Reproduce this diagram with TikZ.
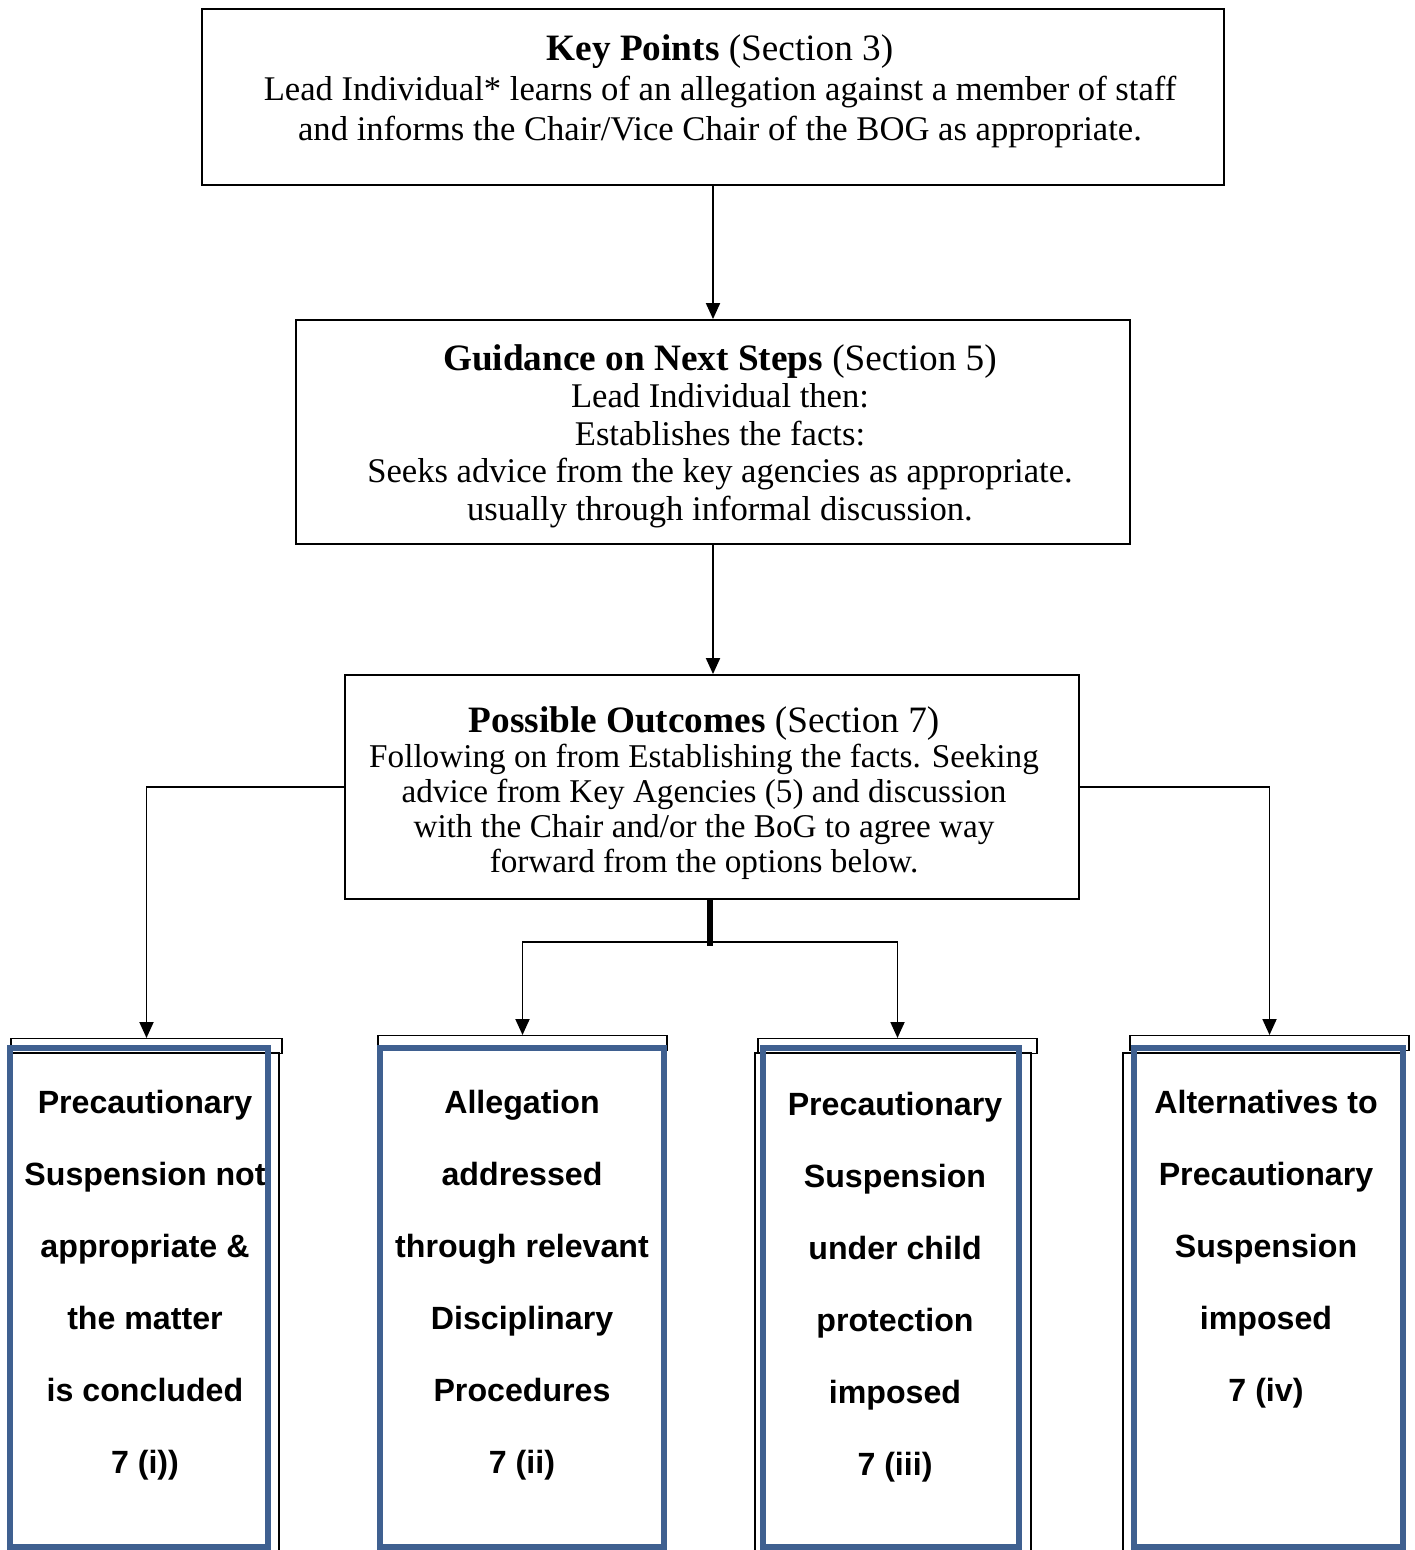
\documentclass[tikz,border=0pt]{standalone}
\usepackage{fontspec}
\setmainfont{Liberation Serif}
\setsansfont{Liberation Sans}
\usetikzlibrary{arrows.meta,positioning}
\definecolor{frameblue}{HTML}{3F6090}
\newcommand{\headline}[2]{{\fontsize{21.2}{22.8}\selectfont\textbf{#1} (#2)}}

\begin{document}
\begin{tikzpicture}[x=0.02cm,y=-0.02cm,
    box/.style={draw,line width=1.1pt,inner sep=0pt},
    tab/.style={draw,line width=0.8pt,inner sep=0pt,anchor=north,minimum height=0.3cm},
    body/.style={draw,line width=0.8pt},
    frame/.style={draw=frameblue,line width=3.4pt},
    link/.style={line width=1.1pt,-{Triangle[length=0.32cm,width=0.28cm]}},
    bigtext/.style={align=center,inner sep=0pt,font=\fontsize{19.7}{22.8}\selectfont},
    midtext/.style={align=center,inner sep=0pt,font=\fontsize{19.7}{21.3}\selectfont},
    lowtext/.style={align=center,inner sep=0pt,font=\fontsize{18.9}{19.9}\selectfont},
    option/.style={align=center,inner sep=0pt,font=\sffamily\bfseries\fontsize{18.3}{41}\selectfont}]
    \useasboundingbox (0,0) rectangle (1414,1550);

    % the three main boxes
    \node[box,minimum width=20.44cm,minimum height=3.52cm] (keypts) at (713,97) {};
    \node[bigtext] (keytext) at (720,91) {\headline{Key Points}{Section 3}\\
        Lead Individual* learns of an allegation against a member of staff\\
        and informs the Chair/Vice Chair of the BOG as appropriate.};

    \node[box,minimum width=16.68cm,minimum height=4.48cm] (guide) at (713,432) {};
    \node[midtext] (guidetext) at (720,436) {\headline{Guidance on Next Steps}{Section 5}\\
        Lead Individual then:\\
        Establishes the facts:\\
        Seeks advice from the key agencies as appropriate.\\
        usually through informal discussion.};

    \node[box,minimum width=14.68cm,minimum height=4.48cm] (outcomes) at (712,787) {};
    \node[lowtext] (outtext) at (704,793) {\headline{Possible Outcomes}{Section 7}\\
        Following on from Establishing the facts. Seeking\\
        advice from Key Agencies (5) and discussion\\
        with the Chair and/or the BoG to agree way\\
        forward from the options below.};

    % the four options
    \node[tab,minimum width=5.42cm] (out1) at (146.5,1038) {};
    \node[tab,minimum width=5.78cm] (out2) at (522.5,1035) {};
    \node[tab,minimum width=5.58cm] (out3) at (897.5,1038) {};
    \node[tab,minimum width=5.58cm] (out4) at (1269.5,1035) {};
    \draw[body] (11,1053) rectangle (279,1560);
    \draw[body] (378,1050) rectangle (662,1560);
    \draw[body] (755,1053) rectangle (1031,1560);
    \draw[body] (1123,1053) rectangle (1404,1560);

    \node[option] (opt1) at (145,1285) {Precautionary\\Suspension not\\appropriate \&\\the matter\\is concluded\\7 (i))};
    \node[option] (opt2) at (522,1285) {Allegation\\addressed\\through relevant\\Disciplinary\\Procedures\\7 (ii)};
    \node[option] (opt3) at (895,1287) {Precautionary\\Suspension\\under child\\protection\\imposed\\7 (iii)};
    \node[option] (opt4) at (1266,1249) {Alternatives to\\Precautionary\\Suspension\\imposed\\7 (iv)};

    \draw[frame] (10,1048) rectangle (268,1547);
    \draw[frame] (380,1048) rectangle (664,1547);
    \draw[frame] (763,1048) rectangle (1019,1547);
    \draw[frame] (1134,1048) rectangle (1403,1547);

    % connectors
    \draw[link] (keypts.south) -- (guide.north);
    \draw[link] (guide.south) -- (guide.south |- outcomes.north);
    \draw[link] (outcomes.west) -| (out1.north);
    \draw[link] (outcomes.east) -| (out4.north);
    \coordinate (split) at (710,942);
    \draw[line width=3pt] (outcomes.south -| split) -- ++(0,46);
    \draw[link] (split) -| (out2.north);
    \draw[link] (split) -| (out3.north);
\end{tikzpicture}
\end{document}
